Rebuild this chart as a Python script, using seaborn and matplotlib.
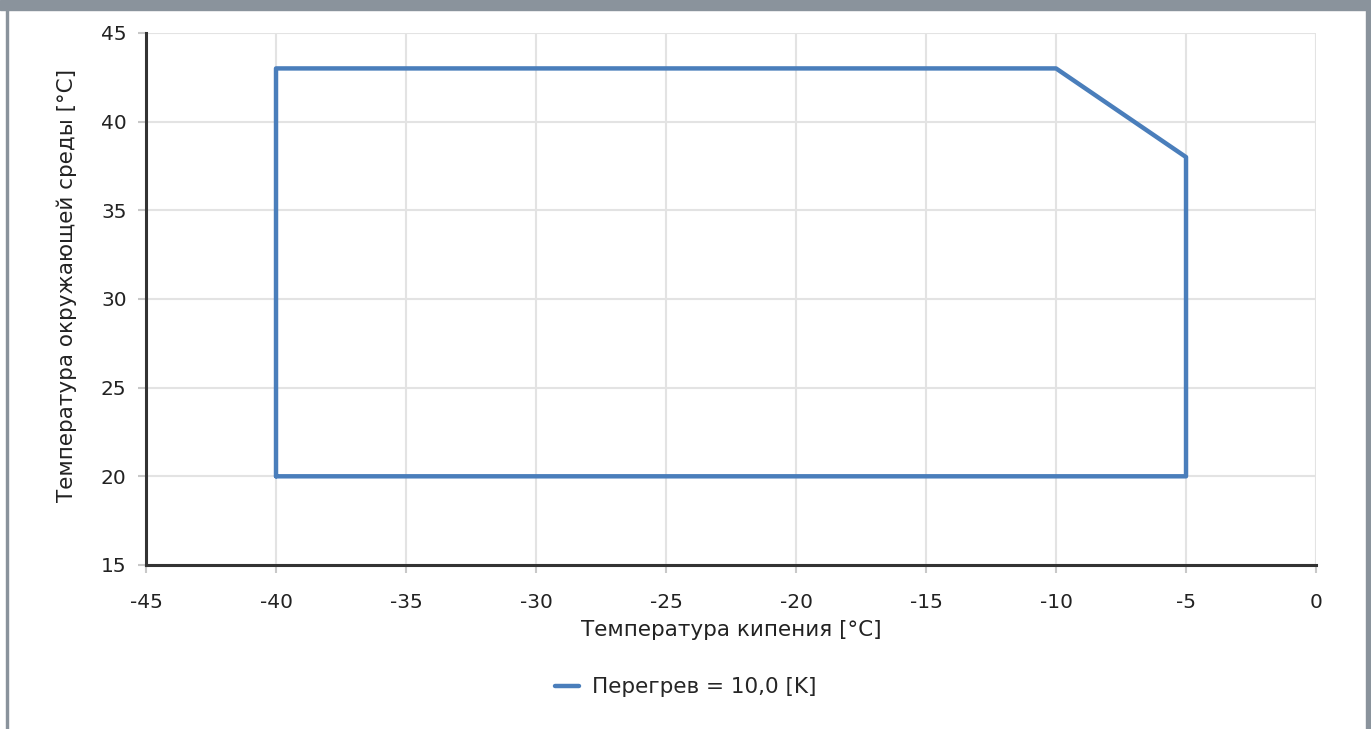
import matplotlib
matplotlib.use("Agg")
import matplotlib.pyplot as plt
import seaborn as sns
import pandas as pd
from matplotlib.patches import Rectangle

# envelope outline (evaporating temp vs ambient temp)
t_evap = [-40, -40, -10, -5, -5, -40]
t_amb = [20, 43, 43, 38, 20, 20]
series_label = "Перегрев = 10,0 [K]"

x_ticks = [-45, -40, -35, -30, -25, -20, -15, -10, -5, 0]
y_ticks = [15, 20, 25, 30, 35, 40, 45]

sns.set_theme(style="white")
plt.rcParams['font.family'] = ['DejaVu Sans']

df = pd.DataFrame({"x": t_evap, "y": t_amb})

fig = plt.figure(figsize=(13.71, 7.29), dpi=100)
ax = fig.add_axes([0.1065, 0.225, 0.8534, 0.7298])

sns.lineplot(data=df, x="x", y="y", sort=False, estimator=None,
             color="#4a7ebb", linewidth=3.2, label=series_label, ax=ax)

ax.set_xlim(-45, 0)
ax.set_ylim(15, 45)
ax.set_xticks(x_ticks)
ax.set_yticks(y_ticks)
ax.set_xticklabels([str(v) for v in x_ticks])
ax.set_yticklabels([str(v) for v in y_ticks])
ax.grid(True, color="#e3e3e3", linewidth=1.5)
ax.set_axisbelow(True)

for side in ["top", "right"]:
    ax.spines[side].set_visible(False)
for side in ["left", "bottom"]:
    ax.spines[side].set_color("#333333")
    ax.spines[side].set_linewidth(2.2)

ax.tick_params(axis="both", colors="#c8c8c8", labelcolor="#222222",
               labelsize=14.5, length=6, width=1.5, direction="out",
               bottom=True, left=True)
ax.tick_params(axis="x", pad=14)
ax.tick_params(axis="y", pad=8)

ax.set_xlabel("Температура кипения [°C]", fontsize=15.5, color="#222222", labelpad=6)
ax.set_ylabel("Температура окружающей среды [°C]", fontsize=15.5, color="#222222")
ax.yaxis.set_label_coords(-0.059, 0.526)

leg = ax.legend(loc="center", bbox_to_anchor=(0.5, 0.057), bbox_transform=fig.transFigure,
                frameon=False, fontsize=15.5, handlelength=1.1, handletextpad=0.6)

# page chrome: header band and side borders
fig.patches.append(Rectangle((0, 1 - 10 / 729), 1, 10 / 729, transform=fig.transFigure,
                             color="#8a939c", zorder=0))
fig.patches.append(Rectangle((6 / 1371, 0), 1.5 / 1371, 1, transform=fig.transFigure,
                             color="#8a939c", zorder=0))
fig.patches.append(Rectangle((1366 / 1371, 0), 5 / 1371, 1, transform=fig.transFigure,
                             color="#8a939c", zorder=0))

fig.savefig("out.png", dpi=100)
